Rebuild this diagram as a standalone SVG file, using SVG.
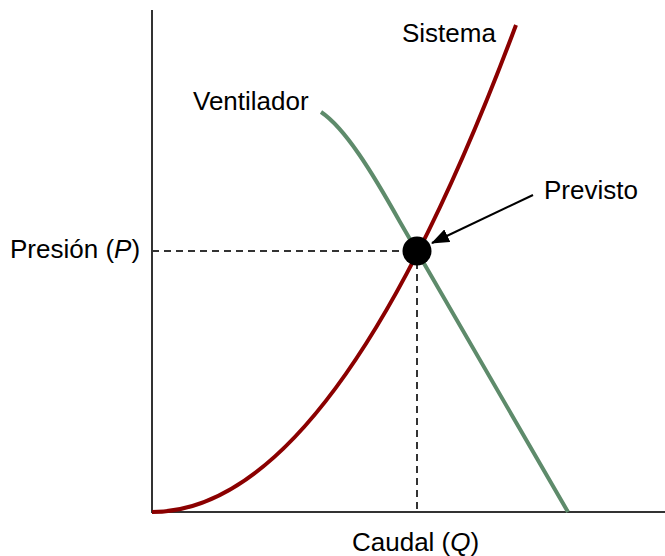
<svg xmlns="http://www.w3.org/2000/svg" width="665" height="556" viewBox="0 0 665 556">
<style>
text{font-family:"Liberation Sans",Arial,sans-serif;font-size:26px;fill:#000}
.axis{stroke:#333;stroke-width:2;fill:none}
.dash{stroke:#333;stroke-width:2;stroke-dasharray:7 5;fill:none}
</style>
<defs>
<marker id="ah" markerWidth="18" markerHeight="14" refX="17" refY="7" orient="auto" markerUnits="userSpaceOnUse" viewBox="0 0 18 14">
<path d="M0,0 L18,7 L0,14 Z" fill="#000"/>
</marker>
</defs>
<g id="axes">
<path class="axis" d="M152,10 V512 H665"/>
</g>
<g id="connectors">
<path class="dash" d="M152,251 H417 V512"/>
<path d="M533,195 L432,243" stroke="#000" stroke-width="2" fill="none" marker-end="url(#ah)"/>
</g>
<g id="sistema">
<path d="M152,512 Q334,512 516,25" stroke="#8B0000" stroke-width="4" fill="none"/>
<text x="402" y="42">Sistema</text>
</g>
<g id="ventilador">
<path d="M321,112 C345,128 372,172 400,222 L568,512" stroke="#5E8B6B" stroke-width="4" fill="none"/>
<text x="193" y="110">Ventilador</text>
</g>
<g id="previsto">
<circle cx="417" cy="251" r="14.5" fill="#000"/>
<text x="544" y="199">Previsto</text>
</g>
<g id="labels">
<text x="10" y="258">Presión (<tspan font-style="italic">P</tspan>)</text>
<text x="352" y="551">Caudal (<tspan font-style="italic">Q</tspan>)</text>
</g>
</svg>
